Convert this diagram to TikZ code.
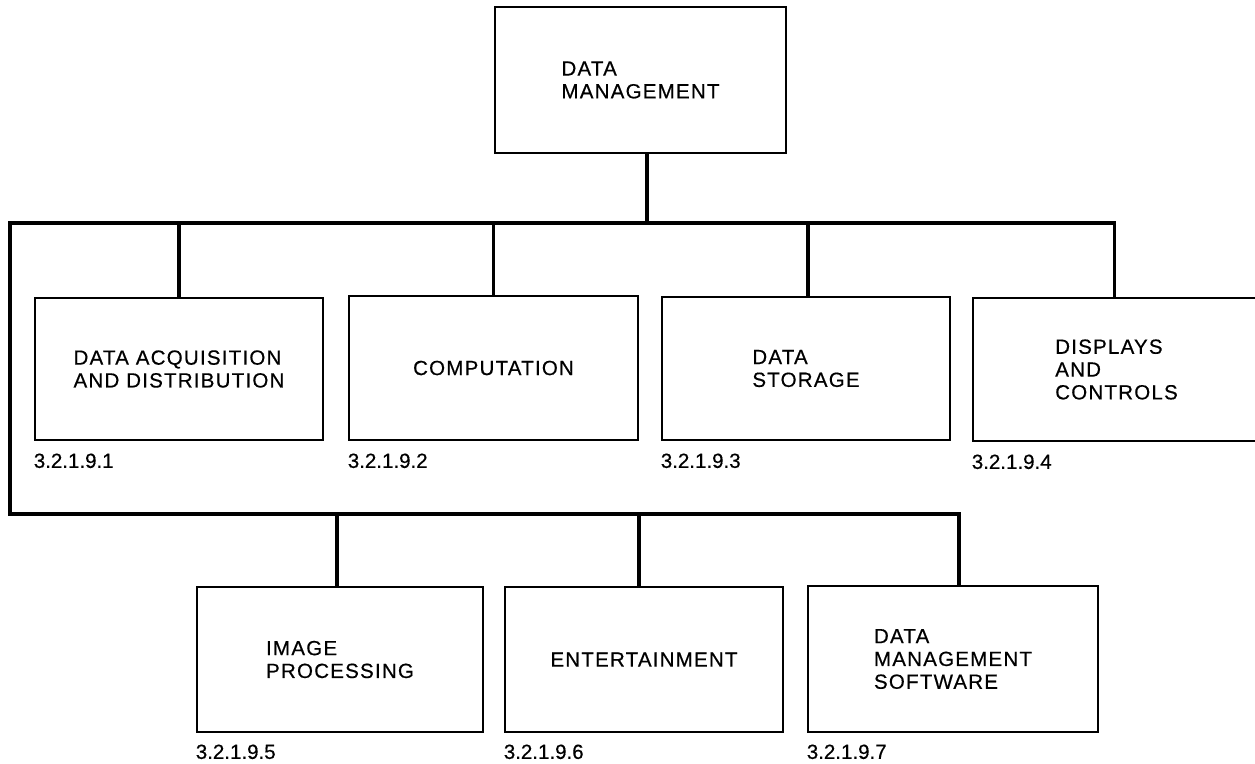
\documentclass[tikz,border=0pt]{standalone}
\usepackage{fontspec}
\setmainfont{Liberation Sans}[LetterSpace=6, FakeBold=0.5]
\newfontfamily\numfont{Liberation Sans}[FakeBold=0.5]
\begin{document}
\begin{tikzpicture}[x=1pt,y=-1pt,
  box/.style={draw, line width=2.7pt, rectangle, inner sep=0pt, align=left,
    font=\fontsize{20.5}{22.8}\selectfont},
  link/.style={line width=3.6pt, line join=miter},
  num/.style={anchor=north west, inner sep=0pt, font=\numfont\fontsize{20.5}{22.8}\selectfont}]
\clip (0,0) rectangle (1255,763);

% top of the tree
\node[box, minimum width=291pt, minimum height=146pt] (top) at (640.5,80) {DATA\\MANAGEMENT};

% first row
\node[box, minimum width=288pt, minimum height=142pt] (b1) at (179,369) {DATA ACQUISITION\\AND DISTRIBUTION};
\node[box, minimum width=289pt, minimum height=144pt] (b2) at (493.5,368) {COMPUTATION};
\node[box, minimum width=288pt, minimum height=143pt] (b3) at (806,368.5) {DATA\\STORAGE};
\node[box, minimum width=287pt, minimum height=143pt] (b4) at (1116.5,369.5) {DISPLAYS\\AND\\CONTROLS};

% second row
\node[box, minimum width=286pt, minimum height=145pt] (b5) at (340,659.5) {IMAGE\\PROCESSING};
\node[box, minimum width=278pt, minimum height=145pt] (b6) at (644,659.5) {ENTERTAINMENT};
\node[box, minimum width=290pt, minimum height=146pt] (b7) at (953,659) {DATA\\MANAGEMENT\\SOFTWARE};

% paragraph numbers
\node[num] (n1) at ([yshift=-12pt]b1.south west) {3.2.1.9.1};
\node[num] (n2) at ([yshift=-12pt]b2.south west) {3.2.1.9.2};
\node[num] (n3) at ([yshift=-12pt]b3.south west) {3.2.1.9.3};
\node[num] (n4) at ([yshift=-12pt]b4.south west) {3.2.1.9.4};
\node[num] (n5) at ([yshift=-11pt]b5.south west) {3.2.1.9.5};
\node[num] (n6) at ([yshift=-11pt]b6.south west) {3.2.1.9.6};
\node[num] (n7) at ([yshift=-11pt]b7.south west) {3.2.1.9.7};

% bus lines
\coordinate (bus1) at (10,223);
\coordinate (bus2) at (10,514);
\draw[link] ([xshift=6.5pt]top.south) -- ([xshift=6.5pt]top.south |- bus1);
\draw[link] ([xshift=-2pt]b4.north) |- (bus1) -- (bus2) -| ([xshift=6pt]b7.north);
\draw[link] (b1.north) -- (b1.north |- bus1);
\draw[link] (b2.north) -- (b2.north |- bus1);
\draw[link] ([xshift=2pt]b3.north) -- ([xshift=2pt]b3.north |- bus1);
\draw[link] ([xshift=-3pt]b5.north) -- ([xshift=-3pt]b5.north |- bus2);
\draw[link] ([xshift=-5pt]b6.north) -- ([xshift=-5pt]b6.north |- bus2);
\end{tikzpicture}
\end{document}
